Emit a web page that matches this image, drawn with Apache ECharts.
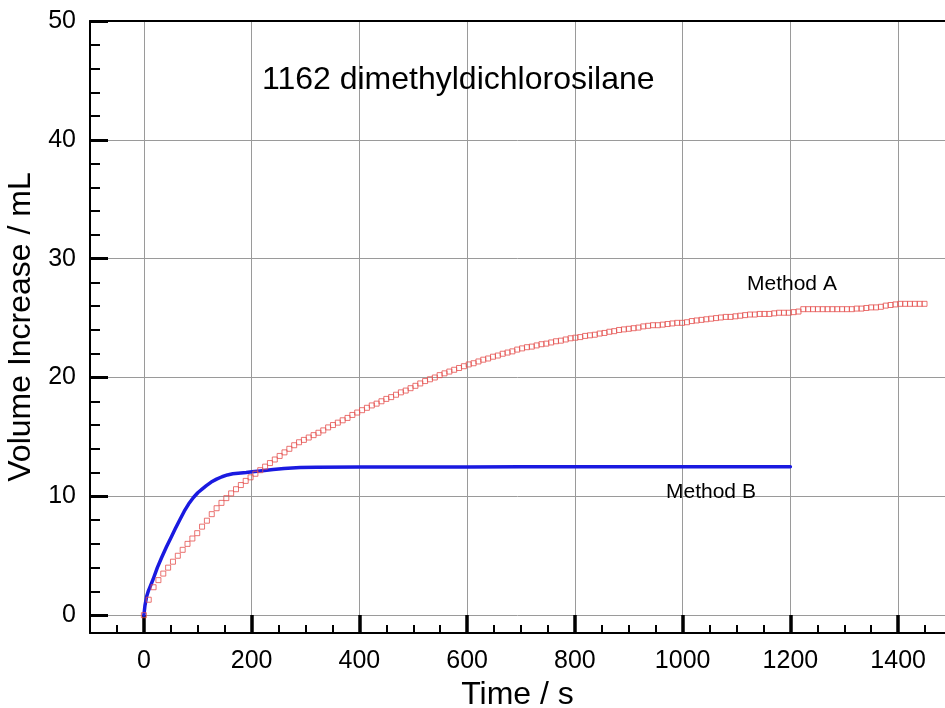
<!DOCTYPE html>
<html><head><meta charset="utf-8">
<script src="https://cdn.jsdelivr.net/npm/echarts@6/dist/echarts.min.js"></script>
<style>html,body{margin:0;padding:0;background:#fff}#chart{width:945px;height:708px}</style>
</head><body><div id="chart"></div>
<script>
// ---- data ----
const chartTitle = '1162 dimethyldichlorosilane';
const labelA = 'Method A';
const labelB = 'Method B';
const xAxisTitle = 'Time / s';
const yAxisTitle = 'Volume Increase / mL';

// Method A sampled every 9 s starting at 0 s
const timeStepA = 9;
const volumeA = [
  0,1.3,2.35,2.95,3.5,4.0,4.5,5.0,5.5,6.0,
  6.45,6.9,7.45,7.95,8.5,9.0,9.45,9.85,10.25,10.6,
  10.95,11.3,11.6,11.9,12.2,12.5,12.8,13.1,13.4,13.7,
  14.0,14.3,14.55,14.75,14.95,15.15,15.35,15.55,15.8,16.0,
  16.2,16.4,16.6,16.85,17.05,17.25,17.45,17.65,17.8,18.0,
  18.2,18.35,18.55,18.75,18.9,19.1,19.3,19.5,19.7,19.85,
  20.0,20.2,20.35,20.5,20.65,20.8,20.95,21.1,21.2,21.35,
  21.5,21.6,21.75,21.85,22.0,22.1,22.2,22.35,22.45,22.55,
  22.6,22.7,22.8,22.85,22.95,23.05,23.1,23.2,23.3,23.35,
  23.4,23.5,23.55,23.6,23.7,23.75,23.85,23.9,24.0,24.05,
  24.1,24.15,24.2,24.3,24.35,24.4,24.4,24.45,24.5,24.55,
  24.6,24.6,24.65,24.75,24.8,24.85,24.9,24.95,25.0,25.05,
  25.1,25.1,25.15,25.2,25.25,25.3,25.3,25.35,25.35,25.35,
  25.4,25.45,25.45,25.45,25.5,25.55,25.75,25.75,25.75,25.75,
  25.75,25.75,25.75,25.75,25.75,25.75,25.75,25.8,25.8,25.85,
  25.9,25.9,25.95,26.05,26.1,26.15,26.2,26.2,26.2,26.2,
  26.2,26.2
];

const timeB = [0,2,5,8,12,17,25,33,42,50,58,67,75,83,92,100,108,116,125,135,145,155,165,175,190,201,220,240,260,290,320,400,500,600,700,800,900,1000,1100,1200];
const volumeB = [0,0.8,1.55,2.0,2.45,3.0,4.0,4.85,5.75,6.5,7.25,8.05,8.75,9.35,9.9,10.3,10.6,10.9,11.2,11.45,11.65,11.8,11.9,11.95,12.0,12.06,12.15,12.25,12.35,12.43,12.45,12.46,12.47,12.47,12.48,12.49,12.48,12.49,12.49,12.5];

const xMajorTicks = [0,200,400,600,800,1000,1200,1400];
const xMinorTicks = [-50,50,100,150,250,300,350,450,500,550,650,700,750,850,900,950,1050,1100,1150,1250,1300,1350,1450];
const yMajorTicks = [0,10,20,30,40,50];
const yMinorTicks = [2,4,6,8,12,14,16,18,22,24,26,28,32,34,36,38,42,44,46,48];

// ---- chart ----
const FONT = '"Liberation Sans", Arial, Helvetica, sans-serif';
const chart = echarts.init(document.getElementById('chart'), null, {renderer: 'canvas'});

const dataA = volumeA.map((v, i) => [i * timeStepA, v]);
const dataB = timeB.map((t, i) => [t, volumeB[i]]);

const gridColor = '#9a9a9a';
const X_MIN = -100, X_MAX = 1487, Y_MIN = -1.5, Y_MAX = 50;

chart.setOption({
  animation: false,
  backgroundColor: '#fff',
  grid: {left: 90, top: 21, width: 855, height: 612, containLabel: false, outerBoundsMode: 'none'},
  xAxis: [
    {
      type: 'value', position: 'bottom', min: X_MIN, max: X_MAX,
      axisLine: {show: true, onZero: false, lineStyle: {color: '#000', width: 2}},
      axisTick: {show: true, inside: true, length: 18, customValues: xMajorTicks, lineStyle: {color: '#000', width: 3.5}},
      axisLabel: {show: true, customValues: xMajorTicks, fontSize: 25, margin: 16, color: '#000', fontFamily: FONT,
                  formatter: v => String(v)},
      splitLine: {show: true, lineStyle: {color: gridColor, width: 1}},
      name: xAxisTitle, nameLocation: 'middle', nameGap: 40,
      nameTextStyle: {fontSize: 32, color: '#000', fontFamily: FONT}
    },
    {
      type: 'value', position: 'bottom', min: X_MIN, max: X_MAX,
      axisLine: {show: false, onZero: false},
      axisTick: {show: true, inside: true, length: 8, customValues: xMinorTicks, lineStyle: {color: '#000', width: 2}},
      axisLabel: {show: false},
      splitLine: {show: false}
    },
    {
      type: 'value', position: 'top', min: X_MIN, max: X_MAX,
      axisLine: {show: true, onZero: false, lineStyle: {color: '#000', width: 2}},
      axisTick: {show: false}, axisLabel: {show: false}, splitLine: {show: false}
    }
  ],
  yAxis: [
    {
      type: 'value', position: 'left', min: Y_MIN, max: Y_MAX,
      axisLine: {show: true, onZero: false, lineStyle: {color: '#000', width: 2}},
      axisTick: {show: true, inside: true, length: 18, customValues: yMajorTicks, lineStyle: {color: '#000', width: 3}},
      axisLabel: {show: true, customValues: yMajorTicks, fontSize: 25, margin: 14, color: '#000', fontFamily: FONT,
                  formatter: v => String(v)},
      splitLine: {show: true, lineStyle: {color: gridColor, width: 1}},
      name: yAxisTitle, nameLocation: 'middle', nameGap: 36, nameRotate: 90,
      nameTextStyle: {fontSize: 32, color: '#000', fontFamily: FONT}
    },
    {
      type: 'value', position: 'left', min: Y_MIN, max: Y_MAX,
      axisLine: {show: false, onZero: false},
      axisTick: {show: true, inside: true, length: 10, customValues: yMinorTicks, lineStyle: {color: '#000', width: 2}},
      axisLabel: {show: false},
      splitLine: {show: false}
    }
  ],
  series: [
    {
      name: labelB, type: 'line', xAxisIndex: 0, yAxisIndex: 0,
      data: dataB, showSymbol: false, symbol: 'none', smooth: false,
      lineStyle: {color: '#1a1ae0', width: 3.5, join: 'round', cap: 'round'}, z: 3
    },
    {
      name: labelA, type: 'scatter', xAxisIndex: 0, yAxisIndex: 0,
      data: dataA, symbol: 'rect', symbolSize: 5,
      itemStyle: {color: 'rgba(255,255,255,0)', borderColor: '#e5504f', borderWidth: 1},
      z: 4
    }
  ],
  graphic: [
    {type: 'text', x: 262, y: 80, z: 10,
     style: {text: chartTitle, fontSize: 32, fontFamily: FONT, fill: '#000', verticalAlign: 'middle', textVerticalAlign: 'middle'}},
    {type: 'text', x: 747, y: 284, z: 10,
     style: {text: labelA, fontSize: 21, fontFamily: FONT, fill: '#000', verticalAlign: 'middle', textVerticalAlign: 'middle'}},
    {type: 'text', x: 666, y: 492, z: 10,
     style: {text: labelB, fontSize: 21, fontFamily: FONT, fill: '#000', verticalAlign: 'middle', textVerticalAlign: 'middle'}}
  ]
});
</script>
</body></html>
